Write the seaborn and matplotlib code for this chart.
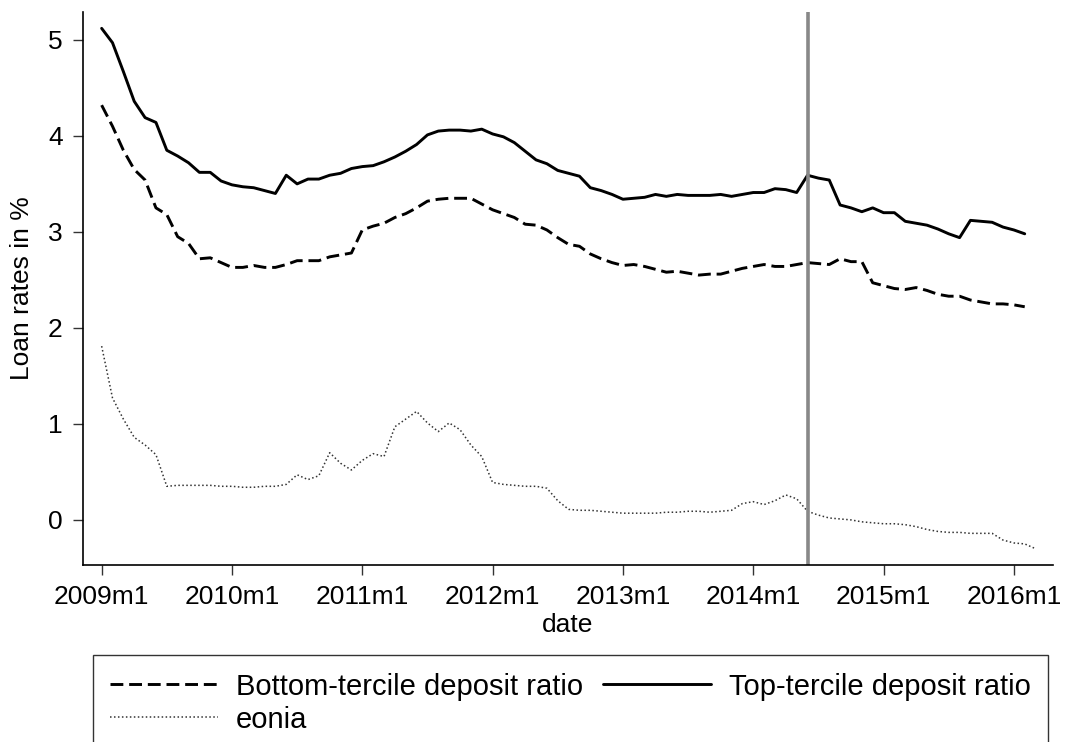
import numpy as np
import pandas as pd
import seaborn as sns
import matplotlib
matplotlib.use("Agg")
import matplotlib.pyplot as plt

# monthly series, starting 2009m1
top_tercile = [5.12, 4.97, 4.67, 4.36, 4.19, 4.14, 3.85, 3.79, 3.72, 3.62, 3.62, 3.53,
               3.49, 3.47, 3.46, 3.43, 3.40, 3.59, 3.50, 3.55, 3.55, 3.59, 3.61, 3.66,
               3.68, 3.69, 3.73, 3.78, 3.84, 3.91, 4.01, 4.05, 4.06, 4.06, 4.05, 4.07,
               4.02, 3.99, 3.93, 3.84, 3.75, 3.71, 3.64, 3.61, 3.58, 3.46, 3.43, 3.39,
               3.34, 3.35, 3.36, 3.39, 3.37, 3.39, 3.38, 3.38, 3.38, 3.39, 3.37, 3.39,
               3.41, 3.41, 3.45, 3.44, 3.41, 3.59, 3.56, 3.54, 3.28, 3.25, 3.21, 3.25,
               3.20, 3.20, 3.11, 3.09, 3.07, 3.03, 2.98, 2.94, 3.12, 3.11, 3.10, 3.05,
               3.02, 2.98]
bottom_tercile = [4.32, 4.10, 3.85, 3.65, 3.54, 3.25, 3.18, 2.95, 2.88, 2.72, 2.73, 2.68,
                  2.63, 2.63, 2.65, 2.63, 2.63, 2.66, 2.70, 2.70, 2.70, 2.74, 2.76, 2.78,
                  3.02, 3.06, 3.09, 3.15, 3.19, 3.25, 3.32, 3.34, 3.35, 3.35, 3.35, 3.29,
                  3.23, 3.19, 3.15, 3.08, 3.07, 3.02, 2.94, 2.87, 2.85, 2.77, 2.72, 2.68,
                  2.65, 2.66, 2.64, 2.61, 2.58, 2.59, 2.57, 2.55, 2.56, 2.56, 2.59, 2.62,
                  2.64, 2.66, 2.64, 2.64, 2.66, 2.68, 2.67, 2.66, 2.72, 2.69, 2.69, 2.47,
                  2.44, 2.41, 2.40, 2.42, 2.39, 2.35, 2.33, 2.33, 2.29, 2.27, 2.25, 2.25,
                  2.24, 2.22]
eonia = [1.81, 1.27, 1.05, 0.86, 0.78, 0.68, 0.35, 0.36, 0.36, 0.36, 0.36, 0.35,
         0.35, 0.34, 0.34, 0.35, 0.35, 0.37, 0.47, 0.42, 0.46, 0.70, 0.59, 0.52,
         0.62, 0.69, 0.66, 0.97, 1.05, 1.13, 1.01, 0.92, 1.01, 0.94, 0.78, 0.66,
         0.39, 0.37, 0.36, 0.35, 0.35, 0.33, 0.20, 0.11, 0.10, 0.10, 0.09, 0.08,
         0.07, 0.07, 0.07, 0.07, 0.08, 0.08, 0.09, 0.09, 0.08, 0.09, 0.10, 0.17,
         0.19, 0.16, 0.20, 0.26, 0.22, 0.09, 0.05, 0.02, 0.01, 0.00, -0.02, -0.03,
         -0.04, -0.04, -0.05, -0.07, -0.10, -0.12, -0.13, -0.13, -0.14, -0.14, -0.14, -0.21,
         -0.24, -0.25, -0.30]
tick_labels = ["2009m1", "2010m1", "2011m1", "2012m1", "2013m1", "2014m1", "2015m1", "2016m1"]
event_month = 65  # 2014m6

loans = pd.DataFrame({"month": np.arange(len(top_tercile)),
                      "top": top_tercile, "bottom": bottom_tercile})
rates = pd.DataFrame({"month": np.arange(len(eonia)), "eonia": eonia})

sns.set_style("ticks")
plt.rcParams["font.family"] = ["Liberation Sans", "DejaVu Sans"]
plt.rcParams["text.color"] = "black"
plt.rcParams["axes.labelcolor"] = "black"
plt.rcParams["xtick.labelcolor"] = "black"
plt.rcParams["ytick.labelcolor"] = "black"

fig = plt.figure(figsize=(10.65, 7.42), dpi=100)
ax = fig.add_axes([0.0779, 0.2385, 0.9108, 0.7453])

sns.lineplot(data=loans, x="month", y="bottom", ax=ax, color="black", lw=2.1,
             label="Bottom-tercile deposit ratio")
ax.lines[-1].set_dashes((4.4, 2.0))
sns.lineplot(data=rates, x="month", y="eonia", ax=ax, color="#333333", lw=1.1,
             label="eonia")
ax.lines[-1].set_dashes((1, 1.6))
sns.lineplot(data=loans, x="month", y="top", ax=ax, color="black", lw=2.1,
             label="Top-tercile deposit ratio")
ax.axvline(event_month, color="#888888", lw=2.6)

ax.set_xlim(-1.72, 87.6)
ax.set_ylim(-0.47, 5.29)
ax.set_xticks(np.arange(0, 85, 12))
ax.set_xticklabels(tick_labels)
ax.set_yticks([0, 1, 2, 3, 4, 5])
ax.tick_params(labelsize=19, length=7.5, width=1.0, color="#333333", pad=7)
ax.tick_params(axis="x", pad=7)
ax.set_xlabel("date", fontsize=19, labelpad=3)
ax.set_ylabel("Loan rates in %", fontsize=19, labelpad=10)
for side in ["top", "right"]:
    ax.spines[side].set_visible(False)
for side in ["left", "bottom"]:
    ax.spines[side].set_linewidth(1.2)
    ax.spines[side].set_color("black")

# legend box sits below the axes and runs off the bottom edge, as in the source
handles, labels = ax.get_legend_handles_labels()
ax.get_legend().remove()
leg = fig.legend(handles, labels,
                 loc="upper left", bbox_to_anchor=(0.0873, -0.04, 0.8967, 0.157),
                 mode="expand", ncol=2, fontsize=21, frameon=True, fancybox=False,
                 edgecolor="black", handlelength=3.7, handletextpad=0.6,
                 borderaxespad=0, borderpad=0.6, labelspacing=0.17, columnspacing=0.5)
leg.get_frame().set_linewidth(1.0)

fig.savefig("out.png", dpi=100)
